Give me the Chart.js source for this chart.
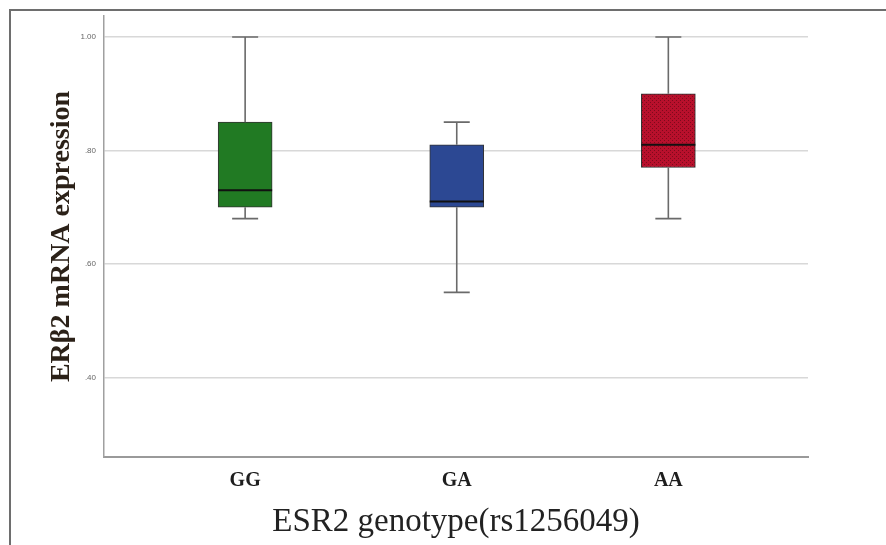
<!DOCTYPE html>
<html>
<head>
<meta charset="utf-8">
<script src="https://cdn.jsdelivr.net/npm/chart.js@4.4.1/dist/chart.umd.min.js"></script>
<style>
    html, body { margin: 0; padding: 0; background: #fff; }
    #wrap { position: relative; width: 886px; height: 545px; overflow: hidden; }
    #frame {
        position: absolute; left: 9px; top: 9px; width: 1000px; height: 1000px;
        border-left: 2px solid #6e6e6e; border-top: 2px solid #6e6e6e;
        pointer-events: none;
    }
</style>
</head>
<body>
<div id="wrap">
    <canvas id="chart" width="886" height="545"></canvas>
    <div id="frame"></div>
</div>
<script>
// Data
const categories = ["GG", "GA", "AA"];
const whiskerMin = [0.68, 0.55, 0.68];
const q1 = [0.70, 0.70, 0.77];
const median = [0.73, 0.71, 0.81];
const q3 = [0.85, 0.81, 0.90];
const whiskerMax = [1.00, 0.85, 1.00];
const yTicks = [0.4, 0.6, 0.8, 1.0];

// Checked fill for the AA box
function checkPattern() {
    const c = document.createElement("canvas");
    c.width = 4;
    c.height = 4;
    const g = c.getContext("2d");
    g.fillStyle = "#b8102c";
    g.fillRect(0, 0, 4, 4);
    g.fillStyle = "#7e0a1c";
    g.fillRect(0, 0, 1, 1);
    g.fillRect(2, 2, 1, 1);
    return g.createPattern(c, "repeat");
}

const boxColors = ["#217a23", "#2c4893", checkPattern()];

// Whiskers, caps and medians drawn from the chart scales
const whiskerPlugin = {
    id: "whiskers",
    afterDatasetsDraw(chart) {
        const ctx = chart.ctx;
        const x = chart.scales.x;
        const y = chart.scales.y;
        const meta = chart.getDatasetMeta(0);
        ctx.save();
        categories.forEach((c, i) => {
            const cx = x.getPixelForValue(i + 1);
            const half = meta.data[i].width / 2;
            const capHalf = 13;
            ctx.strokeStyle = "#6a6a6a";
            ctx.lineWidth = 1.6;
            ctx.beginPath();
            ctx.moveTo(cx, y.getPixelForValue(whiskerMax[i]));
            ctx.lineTo(cx, y.getPixelForValue(q3[i]));
            ctx.moveTo(cx, y.getPixelForValue(q1[i]));
            ctx.lineTo(cx, y.getPixelForValue(whiskerMin[i]));
            [whiskerMax[i], whiskerMin[i]].forEach((v) => {
                const py = y.getPixelForValue(v);
                ctx.moveTo(cx - capHalf, py);
                ctx.lineTo(cx + capHalf, py);
            });
            ctx.stroke();
            ctx.strokeStyle = "#111";
            ctx.lineWidth = 2;
            ctx.beginPath();
            const my = y.getPixelForValue(median[i]);
            ctx.moveTo(cx - half, my);
            ctx.lineTo(cx + half, my);
            ctx.stroke();
        });
        ctx.restore();
    },
};

new Chart(document.getElementById("chart"), {
    type: "bar",
    data: {
        datasets: [
            {
                data: categories.map((c, i) => ({ x: i + 1, y: [q1[i], q3[i]] })),
                backgroundColor: boxColors,
                borderColor: "#333",
                borderWidth: 1,
                borderSkipped: false,
                barThickness: 54,
            },
        ],
    },
    options: {
        responsive: false,
        animation: false,
        layout: { padding: { left: 45, top: 16, right: 78, bottom: 3 } },
        plugins: { legend: { display: false }, tooltip: { enabled: false } },
        scales: {
            x: {
                type: "linear",
                offset: false,
                min: 0.333,
                max: 3.66,
                afterBuildTicks: (scale) => {
                    scale.ticks = categories.map((c, i) => ({ value: i + 1 }));
                },
                afterFit: (scale) => {
                    scale.height = 85;
                },
                grid: { display: false, drawTicks: false },
                border: { color: "#9a9a9a", width: 2 },
                ticks: {
                    padding: 12,
                    color: "#1e1e1e",
                    font: { family: "Liberation Serif", size: 20, weight: "bold" },
                    callback: (v) => categories[v - 1] || "",
                },
                title: {
                    display: true,
                    text: "ESR2 genotype(rs1256049)",
                    color: "#222",
                    padding: 0,
                    font: { family: "Liberation Serif", size: 33 },
                },
            },
            y: {
                min: 0.26,
                max: 1.037,
                afterBuildTicks: (scale) => {
                    scale.ticks = yTicks.map((v) => ({ value: v }));
                },
                afterFit: (scale) => {
                    scale.width = 59;
                },
                grid: { color: "#d8d8d8", lineWidth: 1.5, drawTicks: false },
                border: { color: "#a0a0a0", width: 1.5 },
                ticks: {
                    padding: 8,
                    color: "#666",
                    font: { family: "Liberation Sans", size: 8 },
                    callback: (v) => (v >= 1 ? v.toFixed(2) : v.toFixed(2).replace(/^0/, "")),
                },
                title: {
                    display: true,
                    text: "ERβ2 mRNA expression",
                    color: "#2b2118",
                    padding: 0,
                    font: { family: "Liberation Serif", size: 28, weight: "bold" },
                },
            },
        },
    },
    plugins: [whiskerPlugin],
});
</script>
</body>
</html>
